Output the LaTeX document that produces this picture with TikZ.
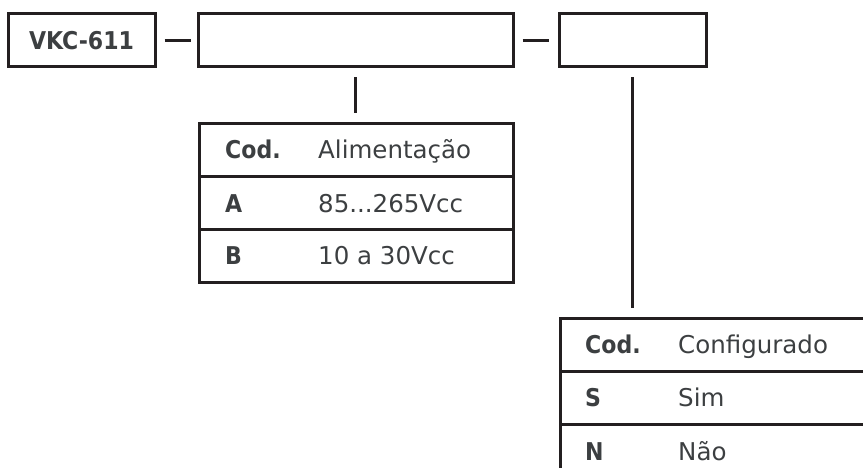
\documentclass[tikz,border=0pt]{standalone}
\usepackage{fontspec}
\setmainfont{DejaVu Sans}[BoldFont={DejaVu Sans Condensed Bold}]
\usepackage{tikz}
\usetikzlibrary{calc}

\definecolor{framegray}{HTML}{231F20}
\definecolor{textgray}{HTML}{3C3F41}

\tikzset{
	codebox/.style={draw=framegray, line width=3, inner sep=0, minimum height=53, font=\fontsize{24.5}{28}\selectfont\bfseries, text=textgray},
	cell/.style={draw=framegray, line width=3, inner sep=0, minimum height=53, anchor=north west},
	celltxt/.style={anchor=base west, inner sep=0, font=\fontsize{24.5}{28}\selectfont, text=textgray},
	link/.style={draw=framegray, line width=3}
}

\begin{document}
\begin{tikzpicture}[x=1pt, y=-1pt]
		%%%%% START %%%%%
		\useasboundingbox (0,0) rectangle (863,468);
		
		% order code boxes
		\node[codebox, minimum width=147] (model) at (81.5, 40.5) {VKC-611};
		\node[codebox, minimum width=315] (supply) at (355.5, 40.5) {};
		\node[codebox, minimum width=147] (config) at (632.5, 40.5) {};
		
		\draw[link, shorten <=8, shorten >=6] (model) -- (supply);
		\draw[link, shorten <=8, shorten >=9] (supply) -- (config);
		
		% supply table
		\node[cell, minimum width=314] (supplyhead) at (198, 122) {};
		\node[cell, minimum width=314] (supplya) at (198, 175) {};
		\node[cell, minimum width=314] (supplyb) at (198, 228) {};
		
		\node[celltxt] (supplycod) at ($(supplyhead.north west)+(27,37)$) {\textbf{Cod.}};
		\node[celltxt] (supplyname) at ($(supplyhead.north west)+(120,37)$) {Alimentação};
		\node[celltxt] (supplyacod) at ($(supplya.north west)+(27,37)$) {\textbf{A}};
		\node[celltxt] (supplyaval) at ($(supplya.north west)+(120,37)$) {85...265Vcc};
		\node[celltxt] (supplybcod) at ($(supplyb.north west)+(27,37)$) {\textbf{B}};
		\node[celltxt] (supplybval) at ($(supplyb.north west)+(120,37)$) {10 a 30Vcc};
		
		\draw[link, shorten <=9, shorten >=9] (supply.south) -- (supply.south |- supplyhead.north);
		
		% configuration table
		\node[cell, minimum width=330] (confighead) at (559, 317) {};
		\node[cell, minimum width=330] (configs) at (559, 370) {};
		\node[cell, minimum width=330] (confign) at (559, 423) {};
		
		\node[celltxt] (configcod) at ($(confighead.north west)+(26,36)$) {\textbf{Cod.}};
		\node[celltxt] (configname) at ($(confighead.north west)+(119,36)$) {Configurado};
		\node[celltxt] (configscod) at ($(configs.north west)+(26,36)$) {\textbf{S}};
		\node[celltxt] (configsval) at ($(configs.north west)+(119,36)$) {Sim};
		\node[celltxt] (confighcod) at ($(confign.north west)+(26,37)$) {\textbf{N}};
		\node[celltxt] (confignval) at ($(confign.north west)+(119,37)$) {Não};
		
		\draw[link, shorten <=9, shorten >=9] (config.south) -- (config.south |- confighead.north);
		
		%%%%% END %%%%%
	\end{tikzpicture}
\end{document}
